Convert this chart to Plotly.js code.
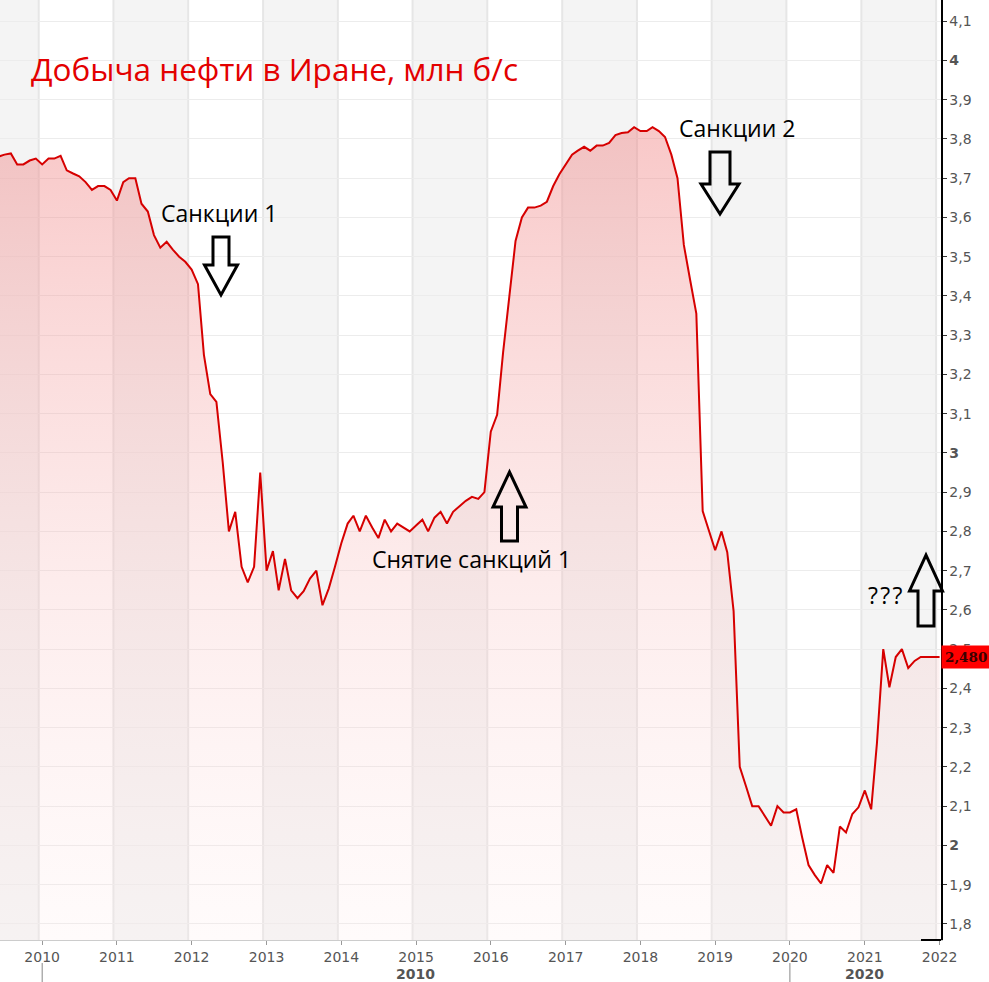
<!DOCTYPE html>
<html>
<head>
<meta charset="utf-8">
<script src="https://cdn.plot.ly/plotly-3.0.1.min.js"></script>
<style>html,body{margin:0;padding:0;background:#fff;}#chart{width:989px;height:982px;}</style>
</head>
<body>
<div id="chart"></div>
<script>
// Monthly oil production in Iran, mln b/d, starting June 2009
const startYear = 2009;
const startMonth = 6;
const production = [
  // 2009 Jun-Dec
  3.755, 3.76, 3.763, 3.735, 3.735, 3.745, 3.75,
  // 2010
  3.735, 3.75, 3.75, 3.757, 3.72, 3.712, 3.705, 3.69, 3.67, 3.68, 3.68, 3.67,
  // 2011
  3.643, 3.69, 3.70, 3.70, 3.635, 3.615, 3.555, 3.523, 3.538, 3.518, 3.50, 3.487,
  // 2012
  3.467, 3.43, 3.25, 3.15, 3.13, 2.975, 2.80, 2.85, 2.71, 2.67, 2.71, 2.95,
  // 2013
  2.70, 2.75, 2.65, 2.73, 2.65, 2.63, 2.648, 2.68, 2.70, 2.612, 2.655, 2.71,
  // 2014
  2.77, 2.82, 2.84, 2.80, 2.84, 2.81, 2.783, 2.83, 2.80, 2.82, 2.81, 2.80,
  // 2015
  2.815, 2.83, 2.80, 2.835, 2.85, 2.82, 2.85, 2.865, 2.878, 2.888, 2.883, 2.90,
  // 2016
  3.054, 3.097, 3.255, 3.40, 3.54, 3.60, 3.625, 3.625, 3.63, 3.64, 3.68, 3.71,
  // 2017
  3.735, 3.76, 3.77, 3.78, 3.77, 3.783, 3.783, 3.79, 3.81, 3.815, 3.817, 3.83,
  // 2018
  3.82, 3.82, 3.83, 3.82, 3.805, 3.76, 3.70, 3.53, 3.44, 3.355, 2.852, 2.80,
  // 2019
  2.752, 2.80, 2.747, 2.597, 2.20, 2.15, 2.10, 2.10, 2.075, 2.05, 2.10, 2.084,
  // 2020
  2.084, 2.092, 2.02, 1.95, 1.925, 1.903, 1.95, 1.93, 2.048, 2.033, 2.08, 2.097,
  // 2021
  2.14, 2.092, 2.26, 2.50, 2.403, 2.48, 2.50, 2.452, 2.47, 2.48, 2.48, 2.48,
  // 2022 Jan
  2.48
];
const lastLabel = '2,480';
const yTickVals = [1.8,1.9,2.0,2.1,2.2,2.3,2.4,2.5,2.6,2.7,2.8,2.9,3.0,3.1,3.2,3.3,3.4,3.5,3.6,3.7,3.8,3.9,4.0,4.1];
const yTickText = ['1,8','1,9','<b>2</b>','2,1','2,2','2,3','2,4','2,5','2,6','2,7','2,8','2,9','<b>3</b>','3,1','3,2','3,3','3,4','3,5','3,6','3,7','3,8','3,9','<b>4</b>','4,1'];
const years = [2010,2011,2012,2013,2014,2015,2016,2017,2018,2019,2020,2021,2022];
const decades = [{label:'2010', center:'2014-12-31', start:'2010-01-01'}, {label:'2020', center:'2021-01-01', start:'2020-01-01'}];
const annotationsText = [
  {text:'Санкции 1', px:219, py:213},
  {text:'Санкции 2', px:736.5, py:128},
  {text:'Снятие санкций 1', px:471, py:559},
  {text:'?&#8202;?&#8202;?', px:884.5, py:595}
];
// arrow geometry in pixels of the plot area (cx, end of shaft, head base, tip, half widths)
const arrows = [
  {cx:221, end:237, base:265, tip:295, h:16.5, s:8},
  {cx:720, end:152, base:184, tip:214, h:19, s:10},
  {cx:509.5, end:541, base:507, tip:472, h:16.5, s:8},
  {cx:926, end:626, base:591, tip:555, h:16.5, s:8}
];

const pad = n => (n < 10 ? '0' : '') + n;
const dates = production.map((v, i) => {
  const t = startMonth - 1 + i;
  return (startYear + Math.floor(t / 12)) + '-' + pad(t % 12 + 1) + '-01';
});

const W = 941, H = 940;
const px2x = p => p / W;
const py2y = p => 1 - p / H;

const shapes = [];
// alternating year bands
for (let y = 2009; y <= 2022; y++) {
  if (y % 2 === 1) {
    shapes.push({type:'rect', xref:'x', yref:'paper', x0:(y-1)+'-12-15', x1:y+'-12-15', y0:0, y1:1,
      fillcolor:'#f4f4f4', line:{width:0}, layer:'below'});
  }
  shapes.push({type:'line', xref:'x', yref:'paper', x0:(y-1)+'-12-15', x1:(y-1)+'-12-15', y0:0, y1:1,
    line:{color:'#e6e6e6', width:2}, layer:'below'});
}
// decade separators under the axis
decades.forEach(d => {
  shapes.push({type:'line', xref:'x', yref:'paper', x0:d.start, x1:d.start, y0:-(23/H), y1:-(42/H),
    line:{color:'#888', width:1}});
});
shapes.push({type:'line', xref:'paper', yref:'paper', x0:921/W, x1:1, y0:0, y1:0, line:{color:'#000', width:2}});
// outline arrows
arrows.forEach(a => {
  const pts = [[a.cx-a.s,a.end],[a.cx-a.s,a.base],[a.cx-a.h,a.base],[a.cx,a.tip],[a.cx+a.h,a.base],[a.cx+a.s,a.base],[a.cx+a.s,a.end]];
  const path = pts.map((p,i) => (i ? 'L' : 'M') + px2x(p[0]).toFixed(5) + ',' + py2y(p[1]).toFixed(5)).join(' ') + ' Z';
  shapes.push({type:'path', xref:'paper', yref:'paper', path:path, line:{color:'#000', width:3}, fillcolor:'rgba(0,0,0,0)'});
});

const annotations = annotationsText.map(a => ({
  text:a.text, xref:'paper', yref:'paper', x:px2x(a.px), y:py2y(a.py), xanchor:'center', yanchor:'middle',
  showarrow:false, font:{family:'Open Sans', size:23, color:'#000'}
}));
decades.forEach(d => {
  annotations.push({text:'<b>'+d.label+'</b>', xref:'x', yref:'paper', x:d.center, y:0, yshift:-34,
    xanchor:'center', yanchor:'middle', showarrow:false, font:{family:'DejaVu Sans', size:14, color:'#555'}});
});
annotations.push({text:'<b>'+lastLabel+'</b>', xref:'paper', yref:'y', x:1, y:production[production.length-1],
  xanchor:'left', yanchor:'middle', xshift:0, showarrow:false, bgcolor:'#ff0000', borderpad:3,
  font:{family:'DejaVu Serif', size:13.5, color:'#3a0000'}});

const trace = {
  x: dates, y: production, type:'scatter', mode:'lines',
  line:{color:'#d60000', width:2},
  fill:'tozeroy',
  fillgradient:{type:'vertical', start:1.76, stop:3.85,
    colorscale:[[0,'rgba(255,235,235,0.2)'],[0.45,'rgba(248,190,190,0.3)'],[1,'rgba(240,130,130,0.45)']]},
  hoverinfo:'skip'
};

const layout = {
  width:989, height:982,
  margin:{l:0, r:48, t:0, b:42},
  paper_bgcolor:'#ffffff', plot_bgcolor:'#ffffff',
  showlegend:false,
  title:{text:'Добыча нефти в Иране, млн б/с', x:31/989, xanchor:'left', xref:'container',
    y:1-70/982, yanchor:'middle', yref:'container',
    font:{family:'Open Sans', size:31.5, color:'#e30000'}},
  xaxis:{type:'date', range:['2009-06-09','2022-01-08'],
    tickvals: years.map(y => y+'-01-01'), ticktext: years.map(String),
    ticks:'outside', ticklen:4, tickcolor:'#999', showgrid:false, zeroline:false,
    showline:true, linecolor:'#cccccc', linewidth:1,
    tickfont:{family:'DejaVu Sans', size:14, color:'#555'}},
  yaxis:{side:'right', range:[1.759, 4.154], tickvals:yTickVals, ticktext:yTickText,
    ticks:'outside', ticklen:4, tickcolor:'#333', showgrid:true, gridcolor:'#ececec', gridwidth:1,
    zeroline:false, showline:true, linecolor:'#000', linewidth:1.5,
    tickfont:{family:'DejaVu Sans', size:14, color:'#555'}},
  shapes:shapes,
  annotations:annotations
};

Plotly.newPlot('chart', [trace], layout, {staticPlot:true, displayModeBar:false});
</script>
</body>
</html>
